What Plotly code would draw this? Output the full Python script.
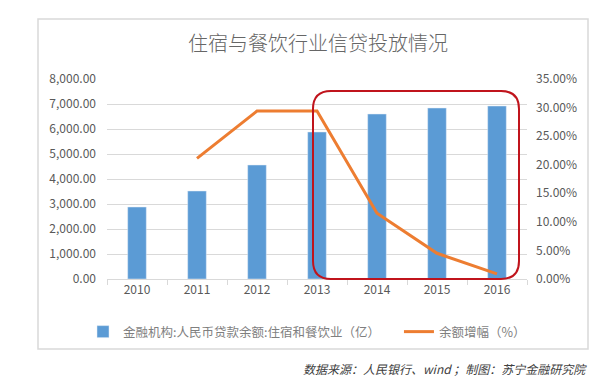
import plotly.graph_objects as go

years = ["2010", "2011", "2012", "2013", "2014", "2015", "2016"]
balance = [2880, 3520, 4560, 5880, 6600, 6840, 6920]
growth = [None, 0.211, 0.294, 0.294, 0.115, 0.045, 0.009]
bar_name = "金融机构:人民币贷款余额:住宿和餐饮业（亿）"
line_name = "余额增幅（%）"

W, H = 616, 389
L, R, T, B = 107, 89, 79, 110
pw, ph = W - L - R, H - T - B

def px(x):
    return (x - L) / pw

def py(y):
    return (H - B - y) / ph

def rounded_rect(x0, y0, x1, y1, r):
    a, b, c, d = px(x0), py(y0), px(x1), py(y1)
    rx, ry = r / pw, r / ph
    return (f"M {a+rx},{b} L {c-rx},{b} Q {c},{b} {c},{b-ry} "
            f"L {c},{d+ry} Q {c},{d} {c-rx},{d} L {a+rx},{d} "
            f"Q {a},{d} {a},{d+ry} L {a},{b-ry} Q {a},{b} {a+rx},{b} Z")

fig = go.Figure()
fig.add_trace(go.Bar(x=years, y=balance, name=bar_name + "\u00a0" * 5,
                     marker_color="#5B9BD5", width=0.31))
fig.add_trace(go.Scatter(x=years, y=growth, name=line_name, yaxis="y2",
                         mode="lines", line=dict(color="#ED7D31", width=3)))

font_family = "Noto Sans CJK SC, Noto Sans, sans-serif"
fig.update_layout(
    width=W, height=H, margin=dict(l=L, r=R, t=T, b=B),
    paper_bgcolor="white", plot_bgcolor="white",
    font=dict(family=font_family, size=12, color="#595959"),
    title=dict(text="住宿与餐饮行业信贷投放情况", x=(318) / W, xanchor="center",
               y=1 - 44 / H, yanchor="middle",
               font=dict(size=20, color="#666666", weight=300)),
    xaxis=dict(type="category", showline=True, linecolor="#d9d9d9", linewidth=1,
               ticks="outside", tickson="boundaries", ticklen=5, tickcolor="#d9d9d9",
               showgrid=False, tickfont=dict(size=12, color="#595959")),
    yaxis=dict(range=[0, 8000], dtick=1000, tickformat=",.2f", showgrid=True,
               gridcolor="#d9d9d9", gridwidth=1, zeroline=False, showline=False,
               ticks="", ticklabelstandoff=10, tickfont=dict(size=12, color="#595959")),
    yaxis2=dict(range=[0, 0.35], dtick=0.05, tickformat=".2%", overlaying="y", side="right",
                showgrid=False, zeroline=False, showline=False, ticklabelstandoff=8,
                tickfont=dict(size=12, color="#595959")),
    legend=dict(orientation="h", x=px(83), xanchor="left", y=py(332), yanchor="middle",
                font=dict(size=12.5, color="#7f7f7f"), bgcolor="rgba(0,0,0,0)",
                itemwidth=30, tracegroupgap=0),
    bargap=0.69,
    shapes=[
        dict(type="rect", xref="paper", yref="paper", x0=px(38), x1=px(588),
             y0=py(349), y1=py(19), line=dict(color="#d9d9d9", width=1.5), layer="below"),
        dict(type="path", xref="paper", yref="paper", path=rounded_rect(313, 91, 519, 279, 18),
             line=dict(color="#C0141C", width=2)),
    ],
    annotations=[
        dict(text="<i>数据来源：人民银行、wind ；制图：苏宁金融研究院</i>", xref="paper", yref="paper",
             x=px(589), y=py(368), xanchor="right", yanchor="middle", showarrow=False,
             font=dict(size=12, color="#404040")),
    ],
)

fig.write_html("out.html", config={"displayModeBar": False},
               post_script="document.body.style.margin='0';")
